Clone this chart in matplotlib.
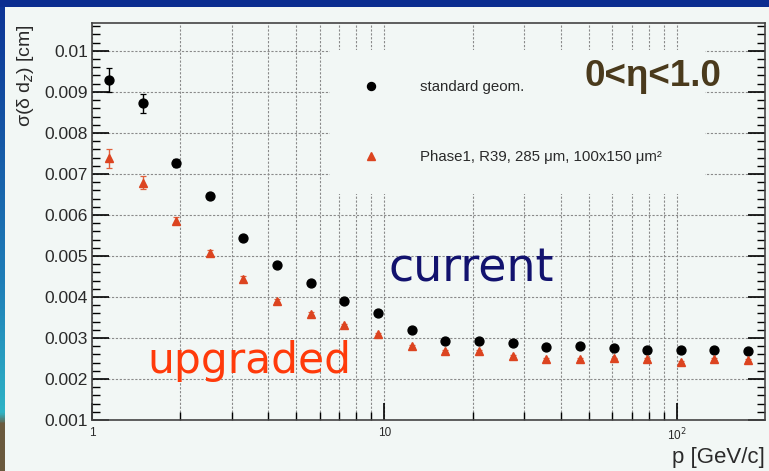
import matplotlib
matplotlib.use('Agg')
import matplotlib.pyplot as plt
import numpy as np
from matplotlib.patches import Rectangle
from matplotlib.colors import LinearSegmentedColormap
from matplotlib.ticker import FixedLocator, MultipleLocator, NullFormatter

# ── data ────────────────────────────────────────────────────────
p_gev = [1.14, 1.49, 1.94, 2.53, 3.29, 4.29, 5.59, 7.29, 9.50, 12.4,
         16.1, 21.0, 27.4, 35.7, 46.6, 60.7, 79.1, 103.0, 134.0, 175.0]
sigma_std = [0.00929, 0.00872, 0.00726, 0.00646, 0.00543, 0.00478, 0.00435,
             0.00389, 0.00362, 0.00320, 0.00293, 0.00293, 0.00287, 0.00277,
             0.00281, 0.00275, 0.00271, 0.00271, 0.00271, 0.00269]
err_std = [0.00029, 0.00024, 0.00010, 0.00007, 0.00005, 0.00004, 0.00004,
           0.00003, 0.00003, 0.00003, 0.00002, 0.00002, 0.00002, 0.00002,
           0.00002, 0.00002, 0.00002, 0.00002, 0.00002, 0.00002]
sigma_ph1 = [0.00738, 0.00679, 0.00586, 0.00508, 0.00445, 0.00391, 0.00359,
             0.00332, 0.00309, 0.00280, 0.00269, 0.00269, 0.00256, 0.00248,
             0.00248, 0.00250, 0.00248, 0.00242, 0.00249, 0.00246]
err_ph1 = [0.00023, 0.00015, 0.00008, 0.00006, 0.00005, 0.00004, 0.00004,
           0.00003, 0.00003, 0.00003, 0.00002, 0.00002, 0.00002, 0.00002,
           0.00002, 0.00002, 0.00002, 0.00002, 0.00002, 0.00002]

label_std = 'standard geom.'
label_ph1 = 'Phase1, R39, 285 μm, 100x150 μm²'
yticks = [0.001, 0.002, 0.003, 0.004, 0.005, 0.006, 0.007, 0.008, 0.009, 0.01]
ytick_labels = ['0.001', '0.002', '0.003', '0.004', '0.005', '0.006',
                '0.007', '0.008', '0.009', '0.01']
xticks = [1, 10, 100]
xtick_labels = ['1', '10', '10$^{2}$']

W, H = 769, 471
panel = '#f2f7f5'
plt.rcParams['font.family'] = ['Liberation Sans', 'DejaVu Sans']

fig = plt.figure(figsize=(W / 100, H / 100), dpi=100, facecolor='#0b2d90')

# slide background: light panel + left gradient strip
fig.patches.append(Rectangle((5 / W, 0), 1, 1 - 7 / H, transform=fig.transFigure,
                             facecolor=panel, edgecolor='none', zorder=-5))
strip = fig.add_axes([0, 0, 5 / W, 1 - 7 / H])
cmap = LinearSegmentedColormap.from_list(
    'slide', [(0.0, '#6b5a3e'), (0.10, '#6b5a3e'), (0.12, '#2fb4c6'),
              (0.40, '#1f7fb8'), (1.0, '#0d3596')])
strip.imshow(np.linspace(0, 1, 200).reshape(-1, 1), aspect='auto', cmap=cmap,
             origin='lower', extent=[0, 1, 0, 1])
strip.axis('off')

# ── main axes ───────────────────────────────────────────────────
ax = fig.add_axes([92 / W, (H - 420) / H, 673 / W, 397 / H])
ax.set_facecolor(panel)
ax.set_xscale('log')
ax.set_xlim(1, 200)
ax.set_ylim(0.001, 0.01068)

eb_std = ax.errorbar(p_gev, sigma_std, yerr=err_std, fmt='o', color='black',
                     ms=6.4, elinewidth=1.0, capsize=2, capthick=0.9, zorder=4)
eb_ph1 = ax.errorbar(p_gev, sigma_ph1, yerr=err_ph1, fmt='^', color='#dc4420',
                     ecolor='#e0603c', ms=5.8, elinewidth=1.0, capsize=2,
                     capthick=0.9, zorder=4)

ax.yaxis.set_major_locator(FixedLocator(yticks))
ax.set_yticklabels(ytick_labels)
ax.yaxis.set_minor_locator(MultipleLocator(0.0002))
ax.xaxis.set_major_locator(FixedLocator(xticks))
ax.set_xticklabels(xtick_labels)
ax.xaxis.set_minor_locator(FixedLocator([2, 3, 4, 5, 6, 7, 8, 9,
                                         20, 30, 40, 50, 60, 70, 80, 90]))
ax.xaxis.set_minor_formatter(NullFormatter())

ax.tick_params(axis='y', which='major', direction='in', length=12, width=1.2,
               right=True, labelsize=12.5, labelcolor='#2a2a2a', pad=3)
ax.tick_params(axis='y', which='minor', direction='in', length=6, width=1.0,
               right=True)
ax.tick_params(axis='x', which='major', direction='in', length=12, width=1.2,
               labelsize=8.5, labelcolor='#2a2a2a', pad=5)
ax.tick_params(axis='x', which='minor', direction='in', length=6, width=1.0)
for s in ax.spines.values():
    s.set_color('#444444')
    s.set_linewidth(1.2)

ax.set_axisbelow(True)
ax.grid(True, axis='y', which='major', color='#8a8a8a', lw=0.8,
        linestyle=(0, (2, 1.5)))
ax.grid(True, axis='x', which='both', color='#8a8a8a', lw=0.8,
        linestyle=(0, (2, 1.5)))

# legend: white box without border, markers only
x0, x1 = (330 - 92) / 673, (705 - 92) / 673
leg = ax.legend(handles=[eb_std[0], eb_ph1[0]], labels=[label_std, label_ph1],
                loc='upper left', mode='expand',
                bbox_to_anchor=(x0, (420 - 193) / 397, x1 - x0, (193 - 50) / 397),
                borderaxespad=0, frameon=True, fancybox=False, framealpha=1,
                facecolor=panel, edgecolor='none', fontsize=10.8,
                borderpad=2.0, handlelength=1.5, handletextpad=2.5,
                labelspacing=3.75, markerscale=0.9)
for t in leg.get_texts():
    t.set_color('#2a2a2a')
leg.set_zorder(6)

# axis titles
fig.text(25 / W, 1 - 24 / H, 'σ(δ d$_{z}$) [cm]', rotation=90, ha='center',
         va='top', fontsize=14, color='#2a2a2a')
fig.text(765 / W, 1 - 458 / H, 'p [GeV/c]', ha='right', va='center',
         fontsize=16, color='#2a2a2a')

# annotations on the slide
fig.text(585 / W, 1 - 76 / H, '0<η<1.0', ha='left', va='center', fontsize=26.5,
         fontweight='bold', color='#4a3a1c')
fig.text(389 / W, 1 - 282 / H, 'current', ha='left', va='baseline',
         fontsize=33, color='#12126e', family='DejaVu Sans')
fig.text(147 / W, 1 - 373 / H, 'upgraded', ha='left', va='baseline',
         fontsize=30.5, color='#ff3a0a', family='DejaVu Sans')

fig.savefig('out.png', dpi=100, facecolor=fig.get_facecolor())
plt.close(fig)
